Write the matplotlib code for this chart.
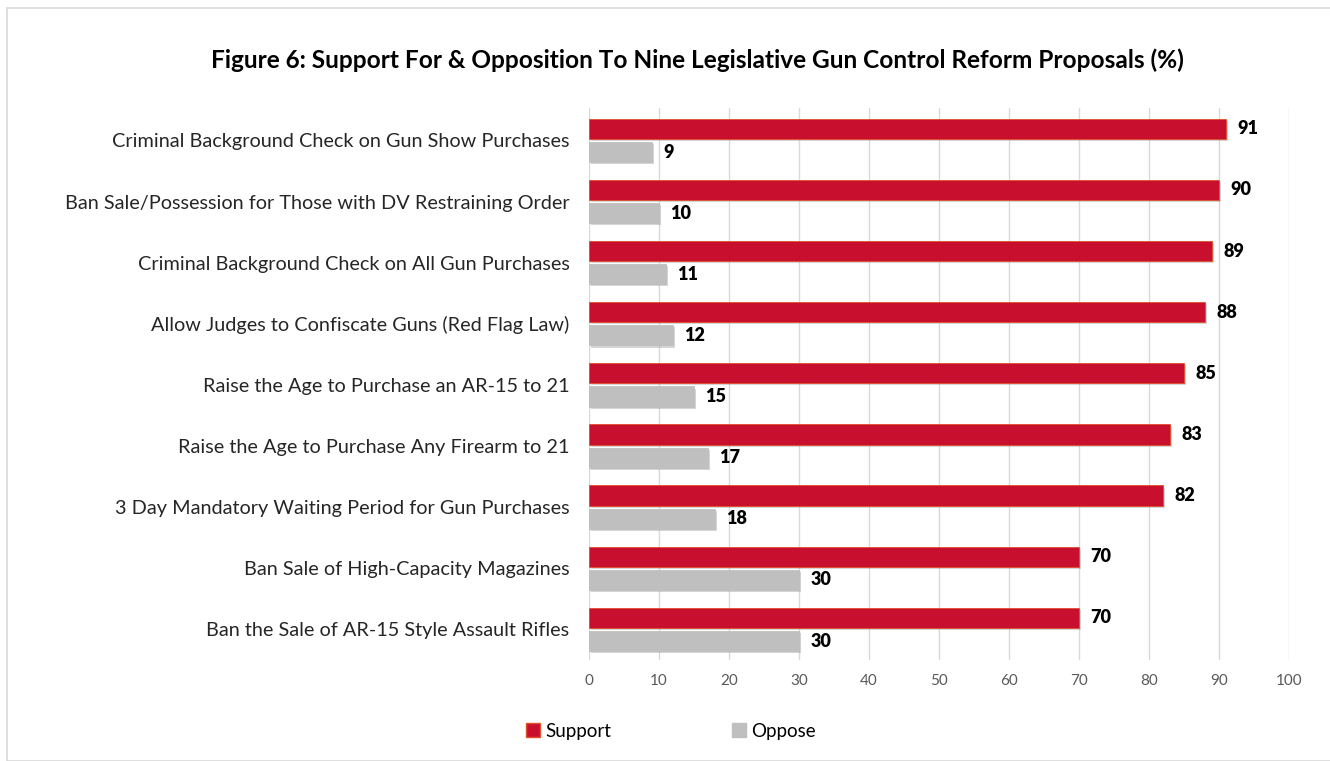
import matplotlib
matplotlib.use('Agg')
import matplotlib.pyplot as plt
import matplotlib.patheffects as pe
import numpy as np

plt.rcParams['font.family'] = ['Lato', 'DejaVu Sans']

proposals = [
    'Criminal Background Check on Gun Show Purchases',
    'Ban Sale/Possession for Those with DV Restraining Order',
    'Criminal Background Check on All Gun Purchases',
    'Allow Judges to Confiscate Guns (Red Flag Law)',
    'Raise the Age to Purchase an AR-15 to 21',
    'Raise the Age to Purchase Any Firearm to 21',
    '3 Day Mandatory Waiting Period for Gun Purchases',
    'Ban Sale of High-Capacity Magazines',
    'Ban the Sale of AR-15 Style Assault Rifles',
]
support = [91, 90, 89, 88, 85, 83, 82, 70, 70]
oppose = [9, 10, 11, 12, 15, 17, 18, 30, 30]

RED = '#C8102E'
GREY = '#BFBFBF'

fig = plt.figure(figsize=(13.3, 7.61), dpi=100)
# light frame around the whole chart
fig.patches.append(plt.Rectangle((7 / 1330, 0.0), 1.0, 1 - 8 / 761, transform=fig.transFigure,
                                 fill=False, edgecolor='#D9D9D9', linewidth=1.2))

ax = fig.add_axes([589 / 1330, 1 - 660 / 761, 700 / 1330, 552 / 761])

y = np.arange(len(proposals))
off = 0.19
h = 0.33
shadow = [pe.SimplePatchShadow(offset=(1.5, -1.5), shadow_rgbFace='#888888', alpha=0.35), pe.Normal()]

b1 = ax.barh(y - off, support, height=h, color=RED, edgecolor='#E0502A', linewidth=0.6,
             label='Support', zorder=3)
b2 = ax.barh(y + off, oppose, height=h, color=GREY, edgecolor=GREY, linewidth=0.6,
             label='Oppose', zorder=3)
for bar in list(b1) + list(b2):
    bar.set_path_effects(shadow)

for yi, v in zip(y, support):
    ax.text(v + 1.6, yi - off, str(v), va='center', ha='left', fontsize=13,
            fontweight='heavy', color='black')
for yi, v in zip(y, oppose):
    ax.text(v + 1.6, yi + off, str(v), va='center', ha='left', fontsize=13,
            fontweight='heavy', color='black')

ax.set_xlim(0, 100)
ax.set_ylim(len(proposals) - 0.5, -0.53)
ax.set_xticks(np.arange(0, 101, 10))
ax.set_yticks(y)
ax.set_yticklabels(proposals, fontsize=14.3, color='#262626')
ax.tick_params(axis='x', labelsize=11, colors='#595959', length=0, pad=10)
ax.tick_params(axis='y', length=0, pad=14)
ax.grid(axis='x', color='#D9D9D9', linewidth=1, zorder=0)
for s in ax.spines.values():
    s.set_visible(False)

fig.text(697 / 1330, 1 - 60 / 761, 'Figure 6: Support For & Opposition To Nine Legislative Gun Control Reform Proposals (%)',
         ha='center', va='center', fontsize=17.6, fontweight='bold', color='black')

handles = [plt.Rectangle((0, 0), 1, 1, color=RED, ec='#E0502A'), plt.Rectangle((0, 0), 1, 1, color=GREY)]
fig.legend(handles, ['Support', 'Oppose'], loc='center', bbox_to_anchor=(671 / 1330, 1 - 731 / 761),
           ncol=2, frameon=False, fontsize=13.5, handlelength=0.75, handleheight=0.75,
           handletextpad=0.3, columnspacing=6.4)

fig.savefig('out.png', dpi=100, facecolor='white')
